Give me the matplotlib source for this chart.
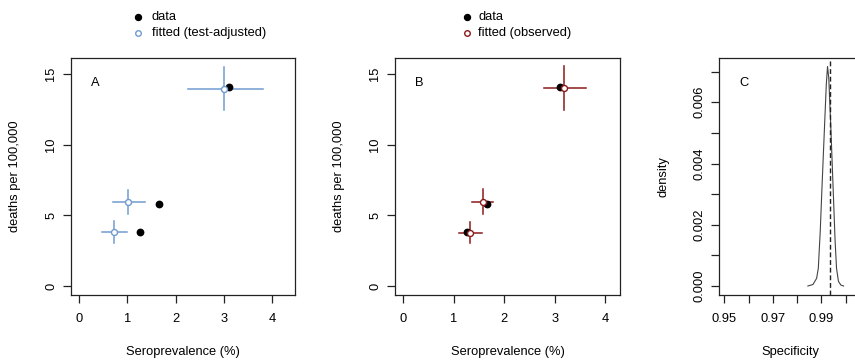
import matplotlib
matplotlib.use("Agg")
import matplotlib.pyplot as plt
from matplotlib.lines import Line2D
import numpy as np

plt.rcParams['font.family'] = ['Liberation Sans', 'DejaVu Sans']
FS = 9.3

# ---- data ----
data_x = [3.10, 1.65, 1.27]
data_y = [14.06, 5.77, 3.80]

fitA_x = [3.00, 1.01, 0.72]
fitA_y = [13.96, 5.92, 3.80]
fitA_xlo = [2.25, 0.71, 0.48]
fitA_xhi = [3.81, 1.37, 0.99]
fitA_ylo = [12.46, 5.10, 3.06]
fitA_yhi = [15.52, 6.80, 4.58]

fitB_x = [3.18, 1.57, 1.32]
fitB_y = [13.99, 5.92, 3.77]
fitB_xlo = [2.79, 1.37, 1.11]
fitB_xhi = [3.61, 1.77, 1.55]
fitB_ylo = [12.46, 5.07, 3.07]
fitB_yhi = [15.57, 6.84, 4.55]

spec_x = [0.9844, 0.9865, 0.9880, 0.9887, 0.9895, 0.9902, 0.9912, 0.9920,
          0.9925, 0.9930, 0.9938, 0.9948, 0.9956, 0.9962, 0.9970, 0.9980, 0.9991]
spec_d = [0.00000, 0.00005, 0.00025, 0.00058, 0.00180, 0.00320, 0.00510, 0.00660,
          0.00717, 0.00680, 0.00530, 0.00320, 0.00150, 0.00058, 0.00015, 0.00003, 0.00000]
spec_obs = 0.9937

xticksAB = [0, 1, 2, 3, 4]
yticksAB = [0, 5, 10, 15]
xticksC = [0.95, 0.96, 0.97, 0.98, 0.99, 1.00]
xlabelsC = ['0.95', '', '0.97', '', '0.99', '']
yticksC = [0.000, 0.001, 0.002, 0.003, 0.004, 0.005, 0.006, 0.007]
ylabelsC = ['0.000', '', '0.002', '', '0.004', '', '0.006', '']

BLUE = '#6f9bd1'
RED = '#8b1a1a'

W, H = 855, 361
fig = plt.figure(figsize=(W / 100, H / 100), dpi=100)

def px_axes(left, right, top, bottom):
    return fig.add_axes([left / W, 1 - bottom / H, (right - left) / W, (bottom - top) / H])

def style(ax, xlabel, ylabel, letter, width_px):
    for s in ax.spines.values():
        s.set_linewidth(0.9)
        s.set_color('#222222')
    ax.tick_params(direction='out', length=6, width=0.9, color='#222222',
                   labelsize=FS, pad=7)
    ax.tick_params(axis='y', labelrotation=90, pad=4)
    for t in ax.get_yticklabels():
        t.set_va('center')
    ax.set_xlabel(xlabel, fontsize=FS)
    ax.set_ylabel(ylabel, fontsize=FS)
    ax.xaxis.set_label_coords(0.5, -57 / 237)
    ax.yaxis.set_label_coords(-56 / width_px, 0.5)
    ax.xaxis.label.set_va('center')
    ax.yaxis.label.set_va('center')
    ax.text(20 / width_px, 0.893, letter, transform=ax.transAxes, fontsize=FS,
            ha='left', va='center')

def scatter_panel(ax, fx, fy, xlo, xhi, ylo, yhi, color):
    for i in range(len(fx)):
        ax.plot([xlo[i], xhi[i]], [fy[i], fy[i]], color=color, lw=1.1, zorder=2)
        ax.plot([fx[i], fx[i]], [ylo[i], yhi[i]], color=color, lw=1.1, zorder=2)
    ax.plot(data_x, data_y, 'o', color='black', ms=4.6, zorder=3, ls='none')
    ax.plot(fx, fy, 'o', mfc='white', mec=color, mew=1.0, ms=4.3, zorder=4, ls='none')
    ax.set_yticks(yticksAB)
    ax.set_xticks(xticksAB)
    ax.set_ylim(-0.637, 16.13)

def fig_legend(xm, xt, label2, color):
    y1, y2 = 16.7, 33.3
    fig.add_artist(Line2D([xm / W], [1 - y1 / H], marker='o', color='black', ms=4.3,
                          ls='none', transform=fig.transFigure))
    fig.add_artist(Line2D([xm / W], [1 - y2 / H], marker='o', mfc='white', mec=color,
                          mew=1.0, ms=4.0, ls='none', transform=fig.transFigure))
    fig.text(xt / W, 1 - y1 / H, 'data', fontsize=FS, ha='left', va='center')
    fig.text(xt / W, 1 - y2 / H, label2, fontsize=FS, ha='left', va='center')

# Panel A
axA = px_axes(71, 295, 58, 295)
scatter_panel(axA, fitA_x, fitA_y, fitA_xlo, fitA_xhi, fitA_ylo, fitA_yhi, BLUE)
axA.set_xlim(-0.166, 4.47)
style(axA, 'Seroprevalence (%)', 'deaths per 100,000', 'A', 224)
fig_legend(138.3, 151.7, 'fitted (test-adjusted)', BLUE)

# Panel B
axB = px_axes(395, 620, 58, 295)
scatter_panel(axB, fitB_x, fitB_y, fitB_xlo, fitB_xhi, fitB_ylo, fitB_yhi, RED)
axB.set_xlim(-0.164, 4.29)
style(axB, 'Seroprevalence (%)', 'deaths per 100,000', 'B', 225)
fig_legend(466.7, 478.3, 'fitted (observed)', RED)

# Panel C (its right part lies outside the picture, as in the reference)
axC = px_axes(719.3, 862, 58, 295)
axC.plot(spec_x, spec_d, color='#444444', lw=0.8)
axC.axvline(spec_obs, color='#222222', lw=1.0, ls=(0, (3.5, 2)))
axC.set_xticks(xticksC)
axC.set_xticklabels(xlabelsC)
axC.set_yticks(yticksC)
axC.set_yticklabels(ylabelsC)
axC.set_xlim(0.9479, 1.0067)
axC.set_ylim(-0.000294, 0.007446)
style(axC, 'Specificity', 'density', 'C', 142.7)

fig.savefig('out.png', dpi=100)
